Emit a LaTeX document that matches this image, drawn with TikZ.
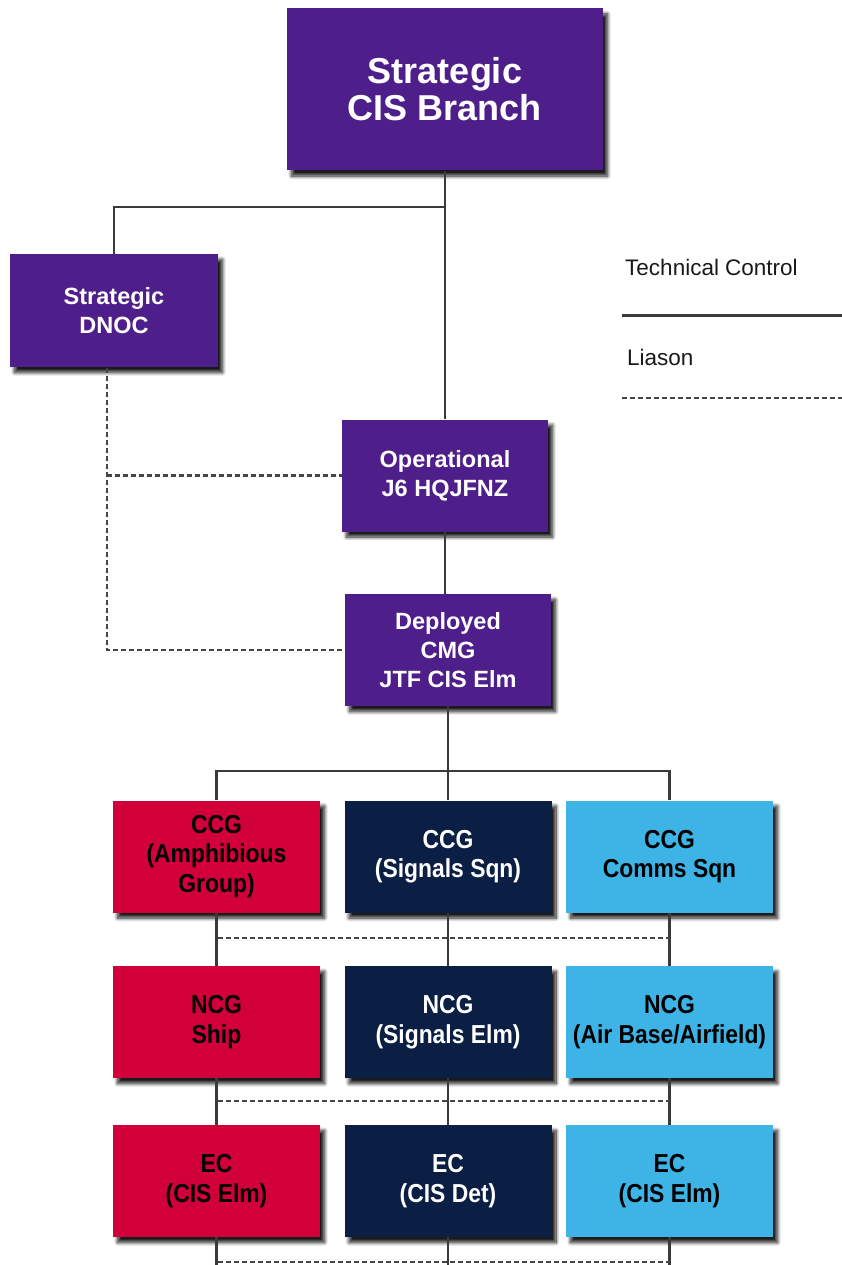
\documentclass[tikz,border=0pt]{standalone}
\usepackage{fontspec}
\setmainfont{Liberation Sans}
\newfontfamily\condsans[FakeStretch=0.88]{Liberation Sans}
\usetikzlibrary{shadows.blur}

\definecolor{cispurple}{HTML}{4E1E8A}
\definecolor{cisred}{HTML}{D1003A}
\definecolor{cisnavy}{HTML}{0B1E44}
\definecolor{ciscyan}{HTML}{3EB4E6}
\definecolor{linegray}{HTML}{3A3A3A}
\definecolor{dotgray}{HTML}{454545}

\begin{document}
\begin{tikzpicture}[x=1pt,y=-1pt,
  unit/.style={inner sep=0pt, align=center,
    blur shadow={shadow xshift=4.5pt, shadow yshift=-5.5pt, shadow blur radius=3.5pt,
                 shadow blur steps=10, shadow opacity=90}},
  hq/.style={unit, fill=cispurple, text=white, minimum width=206pt, minimum height=112pt,
    font=\fontsize{23.5}{29}\selectfont\bfseries},
  field/.style={unit, minimum width=207pt, minimum height=112pt,
    font=\condsans\fontsize{26}{29.5}\selectfont\bfseries},
  redunit/.style={field, fill=cisred, text=black},
  navyunit/.style={field, fill=cisnavy, text=white},
  cyanunit/.style={field, fill=ciscyan, text=black},
  control/.style={draw=linegray, line width=2.5pt},
  liaison/.style={draw=dotgray, line width=2.5pt, dash pattern=on 4.5pt off 3.5pt},
  legendtext/.style={anchor=west, inner sep=0pt, text=black!90, font=\fontsize{22.5}{27}\selectfont}
]
\useasboundingbox (0,0) rectangle (842,1265);

% headquarters chain
\node[unit, fill=cispurple, text=white, minimum width=316pt, minimum height=162pt,
      font=\fontsize{36}{37}\selectfont\bfseries] (top) at (445,89.5) {Strategic\\CIS Branch};
\node[hq, minimum width=208pt, minimum height=113pt] (dnoc) at (114,310.5) {Strategic\\DNOC};
\node[hq] (op) at (445,475.5) {Operational\\J6 HQJFNZ};
\node[hq] (dep) at (448,650) {Deployed\\CMG\\JTF CIS Elm};

% component groups
\node[redunit]  (r1a) at (216.5,856.5) {CCG\\(Amphibious\\Group)};
\node[navyunit] (r1b) at (448,856.5)   {CCG\\(Signals Sqn)};
\node[cyanunit] (r1c) at (669.5,856.5) {CCG\\Comms Sqn};

\node[redunit]  (r2a) at (216.5,1022) {NCG\\Ship};
\node[navyunit] (r2b) at (448,1022)   {NCG\\(Signals Elm)};
\node[cyanunit] (r2c) at (669.5,1022) {NCG\\(Air Base/Airfield)};

\node[redunit]  (r3a) at (216.5,1181) {EC\\(CIS Elm)};
\node[navyunit] (r3b) at (448,1181)   {EC\\(CIS Det)};
\node[cyanunit] (r3c) at (669.5,1181) {EC\\(CIS Elm)};

% junction points
\coordinate (topbus) at (445,207);
\coordinate (bus) at (448,771);
\coordinate (dnocdrop) at (107,368);
\coordinate (dnocop) at (107,475.5);
\coordinate (dnocdep) at (107,650);
\coordinate (l1a) at (218,938);   \coordinate (l1b) at (670,938);
\coordinate (l2a) at (218,1101);  \coordinate (l2b) at (670,1101);
\coordinate (l3a) at (218,1262);  \coordinate (l3b) at (670,1262);
\coordinate (enda) at (216.5,1265);
\coordinate (endb) at (448,1265);
\coordinate (endc) at (669.5,1265);

% technical control
\draw[control] (top.south) -- (op.north);
\draw[control] (topbus) -| (dnoc.north);
\draw[control] (op.south) -- (op.south |- dep.north);
\draw[control] (dep.south) -- (r1b.north);
\draw[control] (r1a.north) |- (bus) -| (r1c.north);
\foreach \c in {a,b,c} {
  \draw[control] (r1\c.south) -- (r2\c.north);
  \draw[control] (r2\c.south) -- (r3\c.north);
  \draw[control] (r3\c.south) -- (end\c);
}

% liaison
\draw[liaison] (dnocdrop) -- (dnocdep) -- (dep.west);
\draw[liaison] (dnocop) -- (op.west);
\draw[liaison] (l1a) -- (l1b);
\draw[liaison] (l2a) -- (l2b);
\draw[liaison] (l3a) -- (l3b);

% legend
\node[legendtext] (tclabel) at (625,267) {Technical Control};
\node[legendtext] (lilabel) at (627,357) {Liason};
\coordinate (tc1) at (622,315); \coordinate (tc2) at (842,315);
\coordinate (li1) at (622,398); \coordinate (li2) at (842,398);
\draw[control, line width=3pt] (tc1) -- (tc2);
\draw[liaison] (li1) -- (li2);
\end{tikzpicture}
\end{document}
